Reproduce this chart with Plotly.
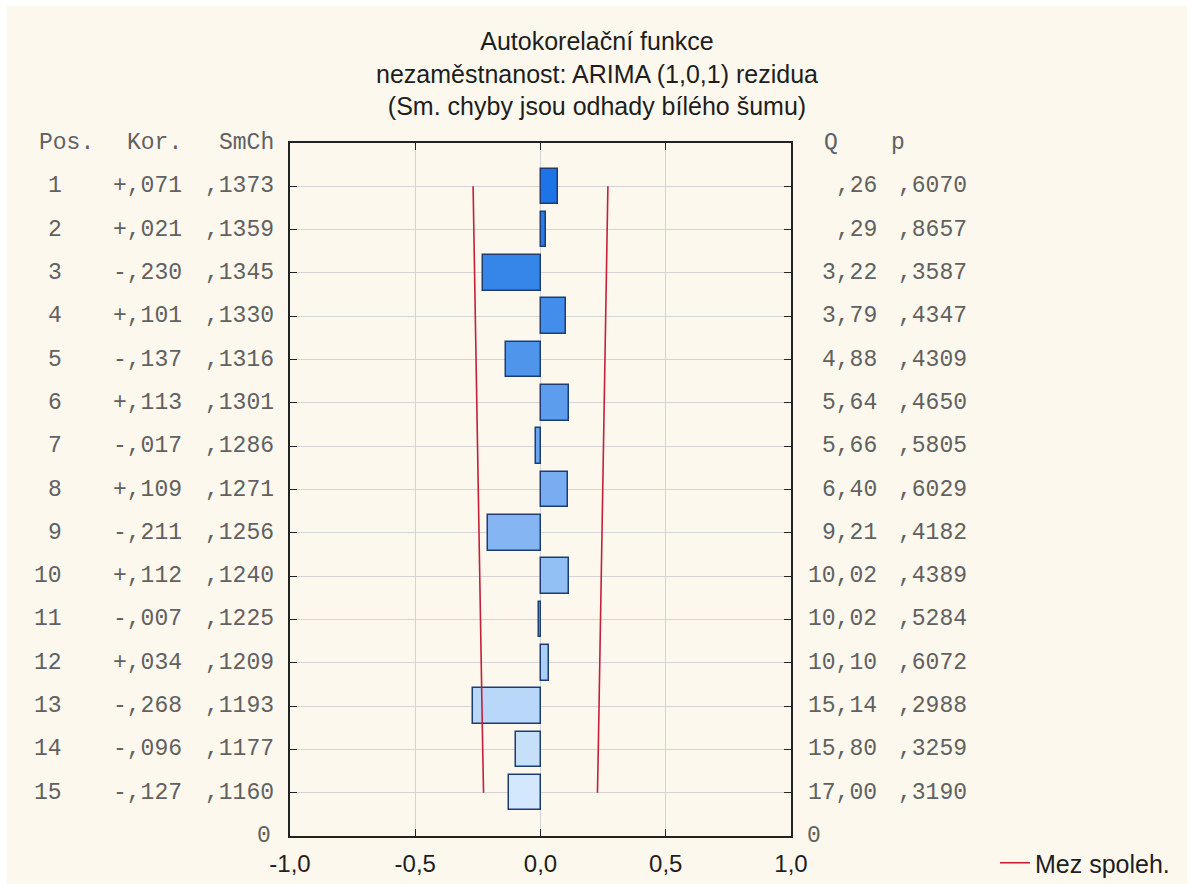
import plotly.graph_objects as go

# Autocorrelation function of ARIMA(1,0,1) residuals (unemployment series)
lags = list(range(1, 16))
acf = [0.071, 0.021, -0.230, 0.101, -0.137, 0.113, -0.017, 0.109,
       -0.211, 0.112, -0.007, 0.034, -0.268, -0.096, -0.127]
std_err = [0.1373, 0.1359, 0.1345, 0.1330, 0.1316, 0.1301, 0.1286, 0.1271,
           0.1256, 0.1240, 0.1225, 0.1209, 0.1193, 0.1177, 0.1160]
q_stat = [0.26, 0.29, 3.22, 3.79, 4.88, 5.64, 5.66, 6.40,
          9.21, 10.02, 10.02, 10.10, 15.14, 15.80, 17.00]
p_val = [0.6070, 0.8657, 0.3587, 0.4347, 0.4309, 0.4650, 0.5805, 0.6029,
         0.4182, 0.4389, 0.5284, 0.6072, 0.2988, 0.3259, 0.3190]
x_ticks = [-1.0, -0.5, 0.0, 0.5, 1.0]
x_tick_labels = ["-1,0", "-0,5", "0,0", "0,5", "1,0"]
title_lines = ["Autokorelační funkce",
               "nezaměstnanost: ARIMA (1,0,1) rezidua",
               "(Sm. chyby jsou odhady bílého šumu)"]
legend_label = "Mez spoleh."

W, H = 1194, 884
L, R, T, B = 290, 403, 143, 48
PW, PH = W - L - R, H - T - B

MONO = "Liberation Mono, Courier New, monospace"
SANS = "Liberation Sans, Arial, sans-serif"
CREAM = "#fcf8ed"
TXT_MONO = "#616161"
TXT_SANS = "#1e1e1e"


def px_to_paper_x(px):
    return (px - L) / PW


def px_to_paper_y(py):
    return (H - B - py) / PH


def fmt_frac(v, digits):
    s = f"{abs(v):.{digits}f}".replace(".", ",")
    if s.startswith("0,"):
        s = s[1:]
    return s


def fmt_signed(v):
    return ("+" if v >= 0 else "-") + fmt_frac(v, 3)


def blend(c0, c1, t):
    a = [int(c0[i:i + 2], 16) for i in (1, 3, 5)]
    b = [int(c1[i:i + 2], 16) for i in (1, 3, 5)]
    return "#" + "".join(f"{round(a[k] + (b[k] - a[k]) * t):02x}" for k in range(3))


n = len(lags)
bar_colors = [blend("#1c74e6", "#d3e8fc", i / (n - 1)) for i in range(n)]

conf = [1.96 * s for s in std_err]

fig = go.Figure()

fig.add_trace(go.Bar(
    x=acf, y=lags, orientation="h", width=0.82,
    marker=dict(color=bar_colors, line=dict(color="#1f3c72", width=1.5)),
    showlegend=False, hoverinfo="x+y",
))

fig.add_trace(go.Scatter(
    x=conf + [None] + [-c for c in conf],
    y=lags + [None] + lags,
    mode="lines", line=dict(color="#c4203c", width=1.6),
    name=legend_label, showlegend=True,
))

ann = []
row_font = dict(family=MONO, size=23, color=TXT_MONO)

# left table: lag, autocorrelation, standard error
for lag, r, s in zip(lags, acf, std_err):
    ann.append(dict(x=px_to_paper_x(64), y=lag, xref="paper", yref="y",
                    text=str(lag), xanchor="right", yanchor="middle",
                    showarrow=False, font=row_font))
    ann.append(dict(x=px_to_paper_x(184), y=lag, xref="paper", yref="y",
                    text=fmt_signed(r), xanchor="right", yanchor="middle",
                    showarrow=False, font=row_font))
    ann.append(dict(x=px_to_paper_x(276), y=lag, xref="paper", yref="y",
                    text=fmt_frac(s, 4), xanchor="right", yanchor="middle",
                    showarrow=False, font=row_font))

# right table: Box-Ljung Q and p
for lag, q, p in zip(lags, q_stat, p_val):
    ann.append(dict(x=px_to_paper_x(879), y=lag, xref="paper", yref="y",
                    text=fmt_frac(q, 2), xanchor="right", yanchor="middle",
                    showarrow=False, font=row_font))
    ann.append(dict(x=px_to_paper_x(969), y=lag, xref="paper", yref="y",
                    text=fmt_frac(p, 4), xanchor="right", yanchor="middle",
                    showarrow=False, font=row_font))

headers = [("Pos.", 37, "left"), ("Kor.", 184, "right"), ("SmCh", 276, "right"),
           ("Q", 822, "left"), ("p", 889, "left")]
for txt, px, anchor in headers:
    ann.append(dict(x=px_to_paper_x(px), y=0, xref="paper", yref="y",
                    text=txt, xanchor=anchor, yanchor="middle",
                    showarrow=False, font=row_font))

ann.append(dict(x=px_to_paper_x(273), y=16, xref="paper", yref="y", text="0",
                xanchor="right", yanchor="middle", showarrow=False, font=row_font))
ann.append(dict(x=px_to_paper_x(805), y=16, xref="paper", yref="y", text="0",
                xanchor="left", yanchor="middle", showarrow=False, font=row_font))

fig.update_layout(
    width=W, height=H,
    margin=dict(l=L, r=R, t=T, b=B, pad=0, autoexpand=False),
    paper_bgcolor="white",
    plot_bgcolor="white",
    title=dict(text="<br>".join(title_lines), x=0.5, xanchor="center",
               xref="container", y=1 - 50 / H, yanchor="top", yref="container",
               font=dict(family=SANS, size=25, color=TXT_SANS)),
    annotations=ann,
    bargap=0,
    legend=dict(x=px_to_paper_x(995), y=px_to_paper_y(863), xanchor="left",
                yanchor="middle", xref="paper", yref="paper",
                bgcolor="rgba(0,0,0,0)",
                font=dict(family=SANS, size=25, color=TXT_SANS)),
    shapes=[dict(type="rect", xref="paper", yref="paper", layer="below",
                 x0=px_to_paper_x(7), x1=px_to_paper_x(1187),
                 y0=px_to_paper_y(884), y1=px_to_paper_y(6),
                 fillcolor=CREAM, line=dict(width=0))],
)

fig.update_xaxes(
    range=[-1, 1], tickvals=x_ticks, ticktext=x_tick_labels,
    showgrid=True, gridcolor="#d4d4d4", gridwidth=1,
    zeroline=False, showline=True, linecolor="#222222", linewidth=2,
    mirror="ticks", ticks="inside", ticklen=7, tickcolor="#222222",
    ticklabelstandoff=5,
    tickfont=dict(family=SANS, size=24, color=TXT_SANS),
)
fig.update_yaxes(
    range=[16, 0], tickvals=lags, showticklabels=False,
    showgrid=True, gridcolor="#d4d4d4", gridwidth=1,
    zeroline=False, showline=True, linecolor="#222222", linewidth=2,
    mirror="ticks", ticks="inside", ticklen=7, tickcolor="#222222",
)

fig.write_html("out.html")
